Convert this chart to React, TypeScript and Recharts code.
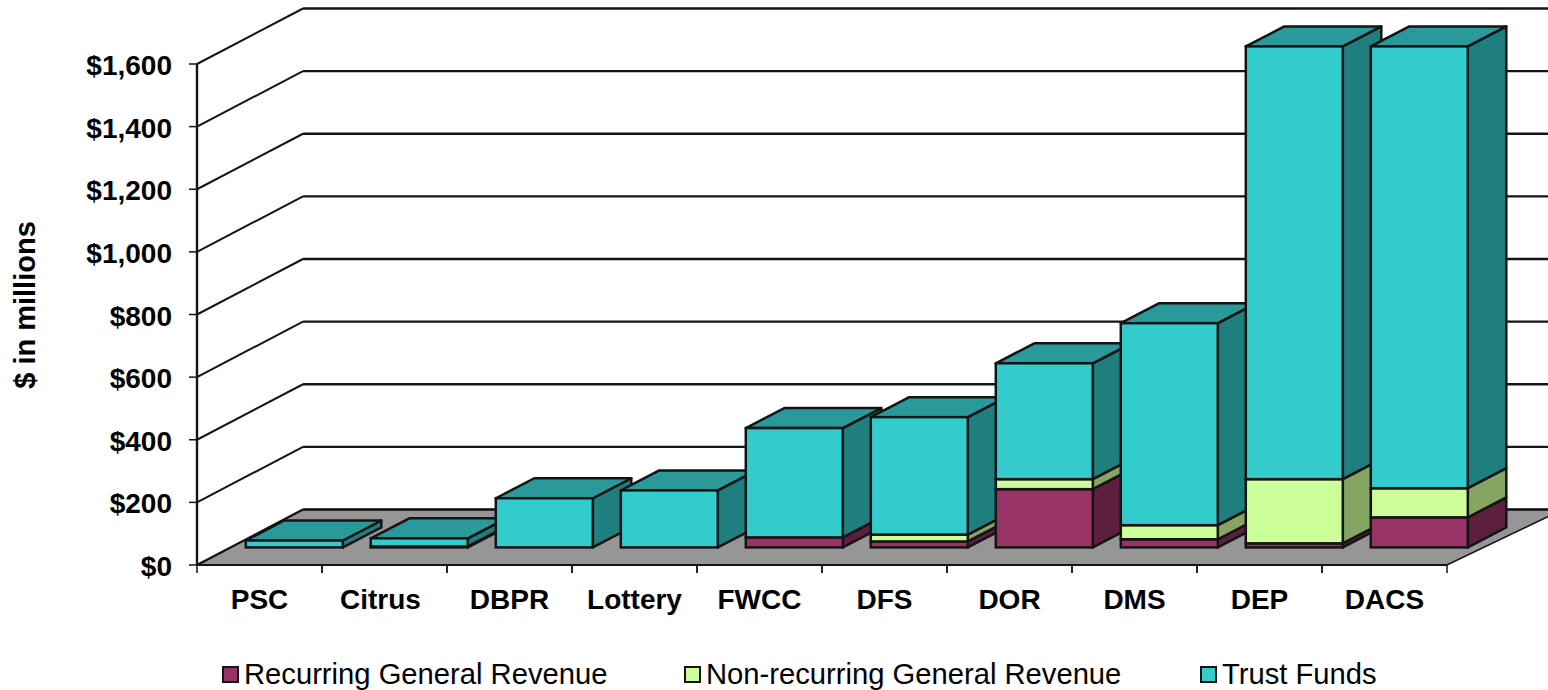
import React from "react";
import { BarChart, Bar, XAxis, YAxis, CartesianGrid, Legend } from "recharts";

const categories = ["PSC", "Citrus", "DBPR", "Lottery", "FWCC", "DFS", "DOR", "DMS", "DEP", "DACS"];
const recurring = [0, 3, 0, 0, 32, 19, 186, 26, 13, 96];
const nonRecurring = [0, 0, 0, 0, 0, 22, 32, 45, 205, 93];
const trustFunds = [22, 26, 157, 182, 349, 375, 370, 645, 1382, 1411];
const yTicks = [0, 200, 400, 600, 800, 1000, 1200, 1400, 1600];
const yTickLabels = ["$0", "$200", "$400", "$600", "$800", "$1,000", "$1,200", "$1,400", "$1,600"];
const seriesNames = ["Recurring General Revenue", "Non-recurring General Revenue", "Trust Funds"];

const data = categories.map((name, i) => ({
  name,
  rec: recurring[i],
  non: nonRecurring[i],
  trust: trustFunds[i],
}));

const FONT = "'Liberation Sans', Arial, sans-serif";
const INK = "#141414";
// floor / wall depth, and how far into that depth the bars stand
const WALL = { dx: 106, dy: -55.5 };
const BAR_OFFSET = { dx: 34.8, dy: -17.6 };
const BAR_DEPTH = { dx: 38.5, dy: -20 };
const STROKE = 2.5;

const Front = (fill: string) => (p: any) => {
  if (!p.height) return <g />;
  return (
    <rect
      x={p.x + BAR_OFFSET.dx}
      y={p.y + BAR_OFFSET.dy}
      width={p.width}
      height={p.height}
      fill={fill}
      stroke={INK}
      strokeWidth={STROKE}
    />
  );
};

const Depth = (side: string, top?: string) => (p: any) => {
  if (!p.height) return <g />;
  const x = p.x + BAR_OFFSET.dx;
  const y = p.y + BAR_OFFSET.dy;
  const r = x + p.width;
  const b = y + p.height;
  const { dx, dy } = BAR_DEPTH;
  return (
    <g stroke={INK} strokeWidth={STROKE} strokeLinejoin="round">
      <path d={`M${r},${y}L${r + dx},${y + dy}L${r + dx},${b + dy}L${r},${b}Z`} fill={side} />
      {top && <path d={`M${x},${y}L${x + dx},${y + dy}L${r + dx},${y + dy}L${r},${y}Z`} fill={top} />}
    </g>
  );
};

const gridLine = (p: any) => {
  const { x1, x2, y1, index } = p;
  const backY = y1 + WALL.dy;
  const isFloor = Math.abs(y1 - 565) < 2;
  return (
    <g key={`wall-${index}`}>
      {isFloor && (
        <path
          d={`M${x1},${y1}L${x1 + WALL.dx},${backY}L${x2 + WALL.dx + 10},${backY}L${x2},${y1}Z`}
          fill="#969696"
          stroke={INK}
          strokeWidth={1.5}
        />
      )}
      <path d={`M${x1},${y1}L${x1 + WALL.dx},${backY}`} fill="none" stroke={INK} strokeWidth={2} />
      <path d={`M${x1 + WALL.dx},${backY}L${x2 + WALL.dx + 10},${backY}`} fill="none" stroke={INK} strokeWidth={2.4} />
    </g>
  );
};

const XTick = (p: any) => {
  const { x, y, payload } = p;
  const nudge = payload.value === "Citrus" ? -4 : 0;
  return (
    <g>
      <line x1={x - 62.5} x2={x - 62.5} y1={y} y2={y + 8} stroke={INK} strokeWidth={1.5} />
      <line x1={x + 62.5} x2={x + 62.5} y1={y} y2={y + 8} stroke={INK} strokeWidth={1.5} />
      <text x={x + nudge} y={y + 44} textAnchor="middle" fontFamily={FONT} fontWeight="bold" fontSize={28} fill="#000">
        {payload.value}
      </text>
    </g>
  );
};

const YTick = (p: any) => {
  const { x, y, payload } = p;
  const label = yTickLabels[yTicks.indexOf(payload.value)];
  return (
    <g>
      <line x1={x - 8} x2={x} y1={y} y2={y} stroke={INK} strokeWidth={1.5} />
      <text x={x - 25} y={y + 11} textAnchor="end" fontFamily={FONT} fontWeight="bold" fontSize={28} fill="#000">
        {label}
      </text>
    </g>
  );
};

const YTitle = () => (
  <text
    transform="translate(35,305) rotate(-90)"
    textAnchor="middle"
    fontFamily={FONT}
    fontWeight="bold"
    fontSize={29}
    fill="#000"
  >
    $ in millions
  </text>
);

const legendSquares = [222, 684, 1200];

const LegendContent = (p: any) => {
  const items = seriesNames.map((n) => (p.payload || []).find((it: any) => it.value === n)).filter(Boolean);
  return (
    <div style={{ position: "relative", width: 1548, height: 0, fontFamily: FONT, fontSize: 29.2, color: "#000" }}>
      {items.map((item: any, i: number) => (
        <React.Fragment key={item.value}>
          <div
            style={{
              position: "absolute",
              left: legendSquares[i],
              top: 11,
              width: 13,
              height: 13,
              background: item.color,
              border: `2px solid ${INK}`,
            }}
          />
          <div style={{ position: "absolute", left: legendSquares[i] + 22, top: 3, lineHeight: "32px", whiteSpace: "nowrap" }}>
            {item.value}
          </div>
        </React.Fragment>
      ))}
    </div>
  );
};

export default function App() {
  return (
    <div style={{ position: "absolute", left: 0, top: 0, width: 1548, height: 690, background: "#fff" }}>
      <BarChart
        width={1548}
        height={690}
        data={data}
        margin={{ top: 64, right: 101, bottom: 124, left: 0 }}
        barSize={97}
      >
        <CartesianGrid vertical={false} horizontal={gridLine} />
        <XAxis
          dataKey="name"
          interval={0}
          height={1}
          tickSize={0}
          tickMargin={0}
          tickLine={false}
          tick={XTick}
          axisLine={{ stroke: INK, strokeWidth: 2 }}
        />
        <XAxis xAxisId="depth" dataKey="name" hide />
        <YAxis
          width={197}
          domain={[0, 1600]}
          ticks={yTicks}
          interval={0}
          tickSize={0}
          tickMargin={0}
          tickLine={false}
          tick={YTick}
          axisLine={{ stroke: INK, strokeWidth: 2.4 }}
          label={{ content: YTitle }}
        />
        <Legend
          content={LegendContent}
          wrapperStyle={{ position: "absolute", left: 0, top: 655, width: 1548, height: 0 }}
        />
        <Bar xAxisId="depth" dataKey="rec" stackId="d" legendType="none" isAnimationActive={false} shape={Depth("#5C1F3D")} />
        <Bar xAxisId="depth" dataKey="non" stackId="d" legendType="none" isAnimationActive={false} shape={Depth("#85A562")} />
        <Bar xAxisId="depth" dataKey="trust" stackId="d" legendType="none" isAnimationActive={false} shape={Depth("#1F7F7F", "#299999")} />
        <Bar dataKey="rec" stackId="f" name={seriesNames[0]} fill="#993366" isAnimationActive={false} shape={Front("#993366")} />
        <Bar dataKey="non" stackId="f" name={seriesNames[1]} fill="#CCFF99" isAnimationActive={false} shape={Front("#CCFF99")} />
        <Bar dataKey="trust" stackId="f" name={seriesNames[2]} fill="#33CCCC" isAnimationActive={false} shape={Front("#33CCCC")} />
      </BarChart>
    </div>
  );
}
